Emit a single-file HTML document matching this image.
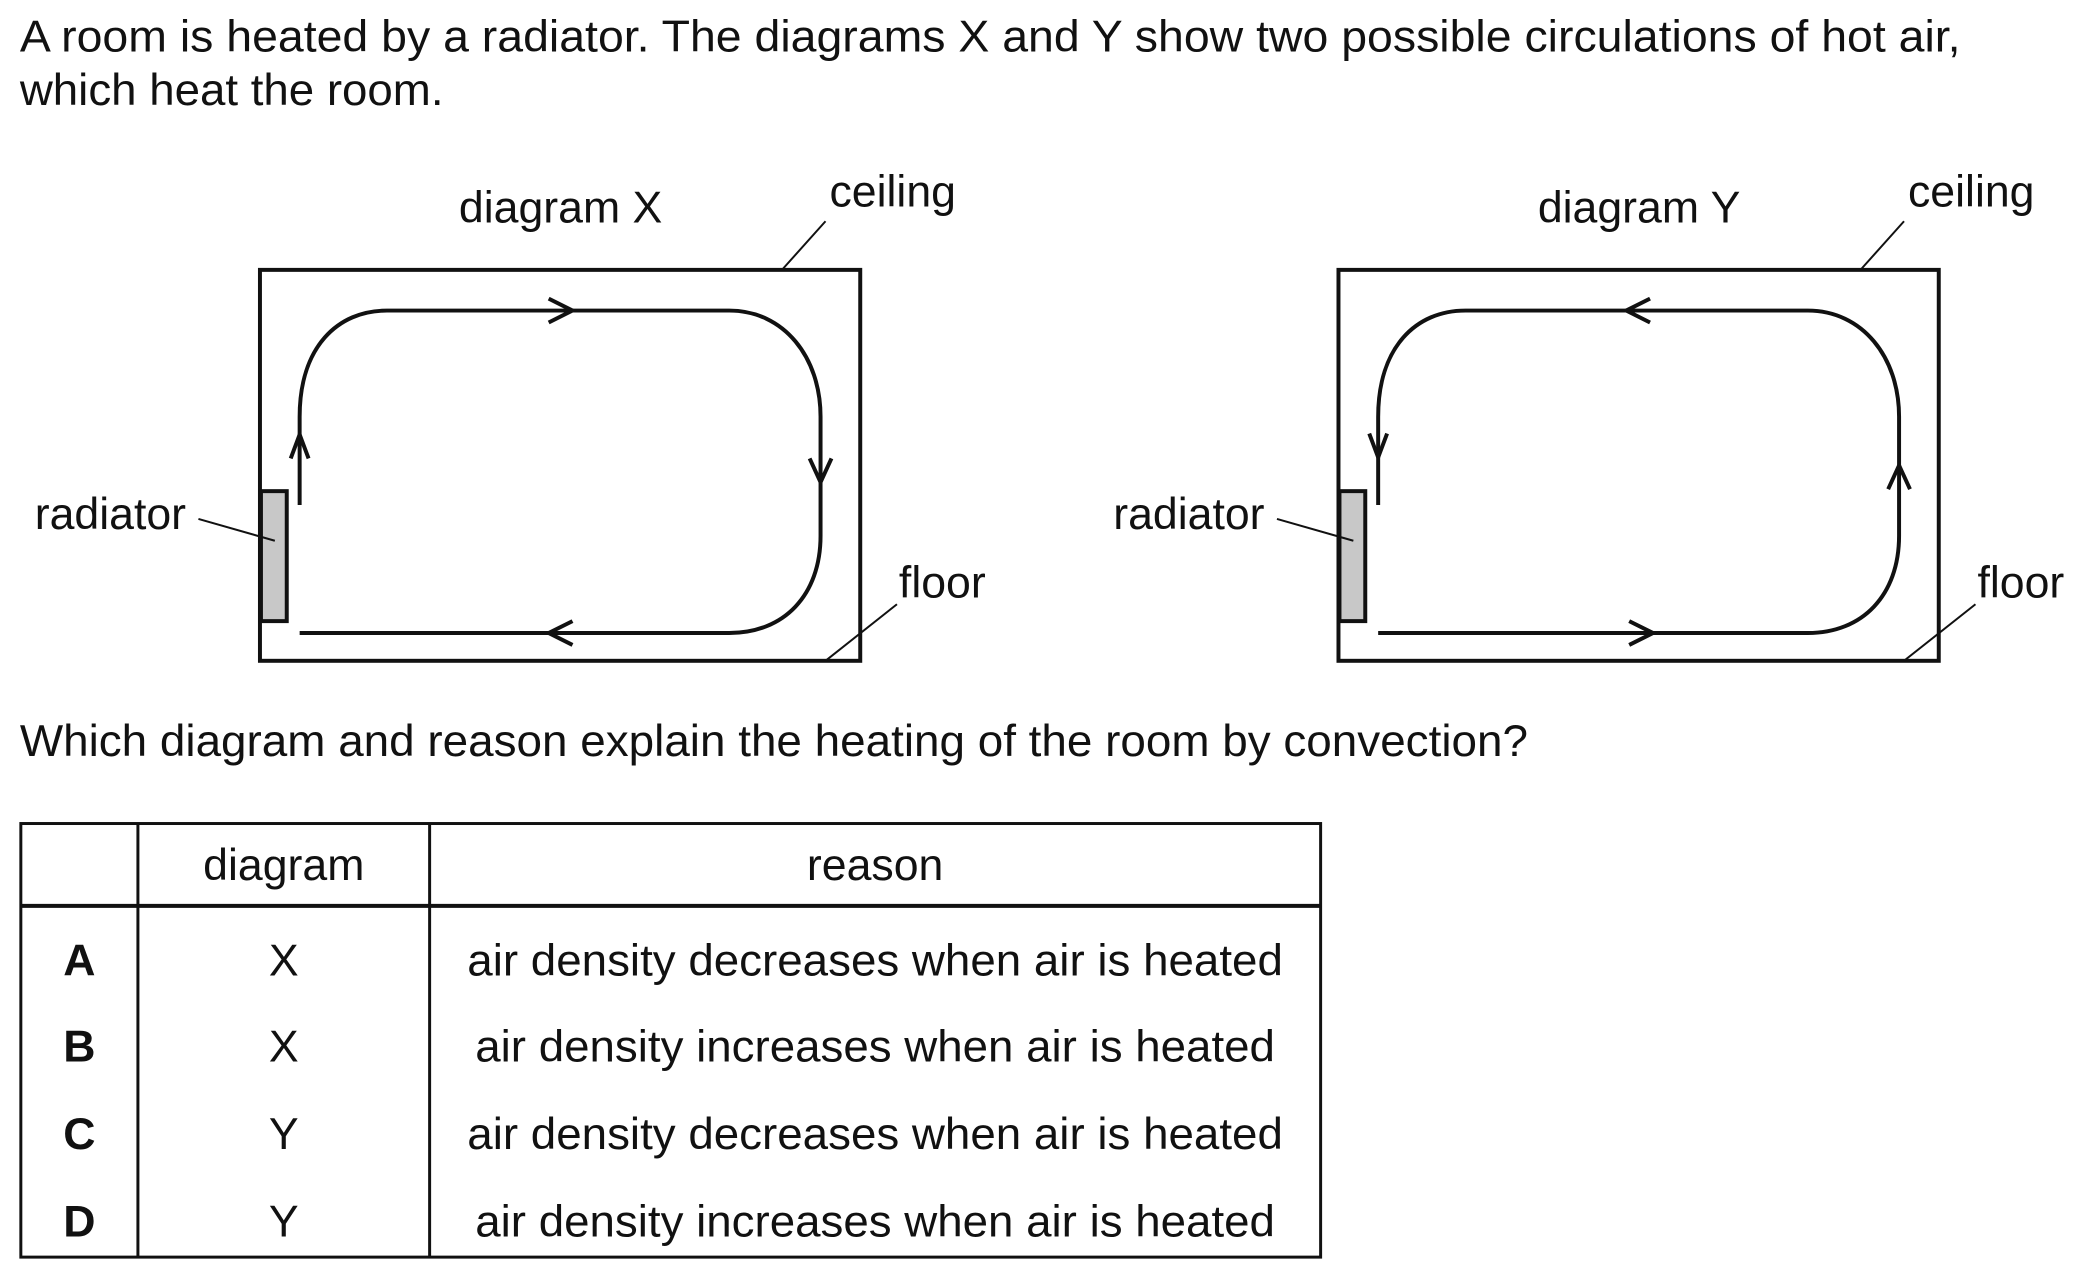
<!DOCTYPE html>
<html><head><meta charset="utf-8"><style>
html,body{margin:0;padding:0;background:#fff;}
svg{display:block;}
text{font-family:"Liberation Sans",Arial,sans-serif;fill:#111;}
</style></head><body>
<svg width="2099" height="1275" viewBox="0 0 2099 1275" xmlns="http://www.w3.org/2000/svg">
<g transform="scale(0.9922)">
<g font-size="45">
<text x="20" y="52" textLength="1956" lengthAdjust="spacingAndGlyphs">A room is heated by a radiator. The diagrams X and Y show two possible circulations of hot air,</text>
<text x="20" y="106" textLength="427" lengthAdjust="spacingAndGlyphs">which heat the room.</text>
<text x="20" y="762" textLength="1520" lengthAdjust="spacingAndGlyphs">Which diagram and reason explain the heating of the room by convection?</text>
</g>

<g fill="none" stroke="#111">
<rect x="262" y="272" width="605" height="394" stroke-width="4"/>
<rect x="263" y="495" width="26" height="131" fill="#c8c8c8" stroke-width="4"/>
<path d="M302,509 L302,420 C302,350 340,313 390,313 L735,313 C790,313 827,360 827,420 L827,540 C827,600 790,638 735,638 L302,638" stroke-width="4"/>
<polyline points="293,462 302,438 311,462" stroke-width="4"/>
<polyline points="553,301 577,313 553,325" stroke-width="4"/>
<polyline points="816,462 827,486 838,462" stroke-width="4"/>
<polyline points="577,626 553,638 577,650" stroke-width="4"/>
<line x1="200" y1="523" x2="277" y2="545" stroke-width="2"/>
<line x1="832" y1="223" x2="789" y2="271" stroke-width="2"/>
<line x1="904" y1="609" x2="832" y2="666" stroke-width="2"/>
</g>
<g font-size="45">
<text x="565" y="224" text-anchor="middle">diagram X</text>
<text x="836" y="208">ceiling</text>
<text x="35" y="533">radiator</text>
<text x="906" y="602">floor</text>
</g>

<g fill="none" stroke="#111" transform="translate(1087,0)">
<rect x="262" y="272" width="605" height="394" stroke-width="4"/>
<rect x="263" y="495" width="26" height="131" fill="#c8c8c8" stroke-width="4"/>
<path d="M302,509 L302,420 C302,350 340,313 390,313 L735,313 C790,313 827,360 827,420 L827,540 C827,600 790,638 735,638 L302,638" stroke-width="4"/>
<polyline points="293,437 302,461 311,437" stroke-width="4"/>
<polyline points="576,301 552,313 576,325" stroke-width="4"/>
<polyline points="816,493 827,469 838,493" stroke-width="4"/>
<polyline points="555,626 579,638 555,650" stroke-width="4"/>
<line x1="200" y1="523" x2="277" y2="545" stroke-width="2"/>
<line x1="832" y1="223" x2="789" y2="271" stroke-width="2"/>
<line x1="904" y1="609" x2="832" y2="666" stroke-width="2"/>
</g>
<g font-size="45" transform="translate(1087,0)">
<text x="565" y="224" text-anchor="middle">diagram Y</text>
<text x="836" y="208">ceiling</text>
<text x="35" y="533">radiator</text>
<text x="906" y="602">floor</text>
</g>

<g fill="none" stroke="#111" stroke-width="3">
<rect x="21" y="830" width="1310" height="437"/>
<line x1="21" y1="913" x2="1331" y2="913" stroke-width="4"/>
<line x1="139" y1="830" x2="139" y2="1267"/>
<line x1="433" y1="830" x2="433" y2="1267"/>
</g>
<g font-size="45" text-anchor="middle">
<text x="286" y="887">diagram</text>
<text x="882" y="887">reason</text>
<g font-weight="bold"><text x="80" y="983">A</text><text x="80" y="1070">B</text><text x="80" y="1158">C</text><text x="80" y="1246">D</text></g>
<text x="286" y="983">X</text><text x="286" y="1070">X</text><text x="286" y="1158">Y</text><text x="286" y="1246">Y</text>
<text x="882" y="983" textLength="822" lengthAdjust="spacingAndGlyphs">air density decreases when air is heated</text>
<text x="882" y="1070" textLength="806" lengthAdjust="spacingAndGlyphs">air density increases when air is heated</text>
<text x="882" y="1158" textLength="822" lengthAdjust="spacingAndGlyphs">air density decreases when air is heated</text>
<text x="882" y="1246" textLength="806" lengthAdjust="spacingAndGlyphs">air density increases when air is heated</text>
</g>
</g>
</svg>
</body></html>
